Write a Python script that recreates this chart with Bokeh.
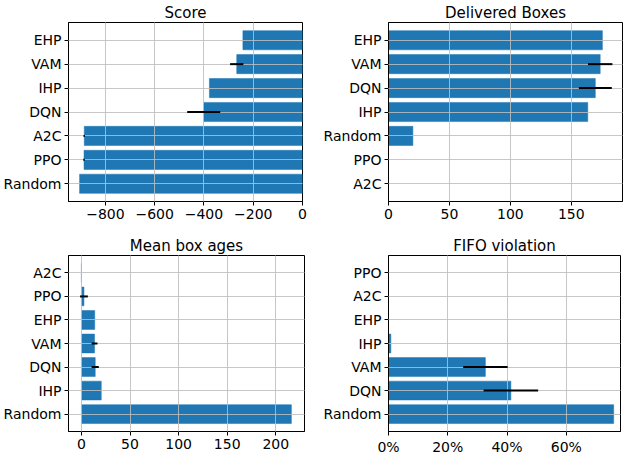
from bokeh.plotting import figure
from bokeh.models import (ColumnDataSource, FactorRange, Range1d, FixedTicker,
                          CustomJSTickFormatter, NumeralTickFormatter)
from bokeh.layouts import column, row
from bokeh.embed import file_html
from bokeh.resources import INLINE

# ---- data ----
methods = ["Random", "PPO", "A2C", "DQN", "IHP", "VAM", "EHP"]

score_mean = [-905, -887, -886, -401, -378, -267, -242]
score_err = [0, 3, 3, 67, 0, 27, 0]

delivered_mean = [20, 0, 0, 169.7, 163.5, 173.7, 175.5]
delivered_err = [0, 0, 0, 13.5, 0, 10, 0]

age_mean = [216, 2.6, 0, 14.2, 20.4, 13.5, 13.7]
age_err = [0, 4, 0, 3.7, 0, 3, 0]

fifo_mean = [0.76, 0, 0, 0.413, 0.008, 0.327, 0]
fifo_err = [0, 0, 0, 0.092, 0, 0.075, 0]

# panel orderings, top to bottom
score_order = ["EHP", "VAM", "IHP", "DQN", "A2C", "PPO", "Random"]
delivered_order = ["EHP", "VAM", "DQN", "IHP", "Random", "PPO", "A2C"]
age_order = ["A2C", "PPO", "EHP", "VAM", "DQN", "IHP", "Random"]
fifo_order = ["PPO", "A2C", "EHP", "IHP", "VAM", "DQN", "Random"]

score_ticks = [-800, -600, -400, -200, 0]
delivered_ticks = [0, 50, 100, 150]
age_ticks = [0, 50, 100, 150, 200]
fifo_ticks = [0, 0.2, 0.4, 0.6]

FONT = "DejaVu Sans"
BLUE = "#1f77b4"


def panel(title, means, errs, order, xr, ticks, width, height, bl, br, bt, bb, pct=False):
    p = figure(width=width, height=height, output_backend="svg", toolbar_location=None,
               x_range=Range1d(*xr),
               y_range=FactorRange(factors=list(reversed(order)), range_padding=0.0686),
               min_border_left=bl, min_border_right=br, min_border_top=bt, min_border_bottom=bb)
    src = ColumnDataSource(dict(y=methods, right=means))
    p.hbar(y="y", left=0, right="right", height=0.8, source=src,
           fill_color=BLUE, line_color=BLUE, line_width=0.5)
    ey, ex0, ex1 = [], [], []
    for m, v, e in zip(methods, means, errs):
        if e > 0:
            ey.append(m)
            ex0.append(v - e)
            ex1.append(v + e)
    esrc = ColumnDataSource(dict(y=ey, x0=ex0, x1=ex1))
    r = p.segment(x0="x0", x1="x1", y0="y", y1="y", source=esrc,
                  line_color="black", line_width=2)
    r.level = "overlay"

    p.title.text = title
    p.title.align = "center"
    p.title.text_font = FONT
    p.title.text_font_size = "15px"
    p.title.text_font_style = "normal"
    p.title.text_color = "black"
    p.title.standoff = 2

    p.xaxis.ticker = FixedTicker(ticks=ticks)
    if pct:
        p.xaxis.formatter = NumeralTickFormatter(format="0%")
    else:
        p.xaxis.formatter = CustomJSTickFormatter(
            code="return tick < 0 ? '\\u2212' + Math.abs(tick) : String(tick);")
    for ax in (p.xaxis[0], p.yaxis[0]):
        ax.axis_line_color = "black"
        ax.major_tick_line_color = "black"
        ax.major_tick_out = 4
        ax.major_tick_in = 0
        ax.minor_tick_line_color = None
        ax.major_label_text_font = FONT
        ax.major_label_text_font_size = "14px"
        ax.major_label_text_color = "black"
        ax.major_label_standoff = 3
    p.xgrid.ticker = FixedTicker(ticks=ticks)
    for g in (p.xgrid[0], p.ygrid[0]):
        g.grid_line_color = "#bdbdbd"
        g.grid_line_alpha = 0.85
        g.grid_line_width = 1
        g.level = "annotation"
    p.outline_line_color = "black"
    p.outline_line_alpha = 1
    p.outline_line_width = 1
    p.background_fill_color = "white"
    p.border_fill_color = "white"
    return p


p1 = panel("Score", score_mean, score_err, score_order, (-950, 0), score_ticks,
           312, 228, 66, 10, 21, 27)
p2 = panel("Delivered Boxes", delivered_mean, delivered_err, delivered_order, (0, 192),
           delivered_ticks, 312, 228, 76, 2, 21, 27)
p3 = panel("Mean box ages", age_mean, age_err, age_order, (-13.3, 229.5), age_ticks,
           312, 229, 66, 8, 27, 24)
p4 = panel("FIFO violation", fifo_mean, fifo_err, fifo_order, (0, 0.783), fifo_ticks,
           312, 229, 76, 4, 27, 24, pct=True)

layout = column(row(p1, p2), row(p3, p4))
open("out.html", "w").write(file_html(layout, INLINE))
